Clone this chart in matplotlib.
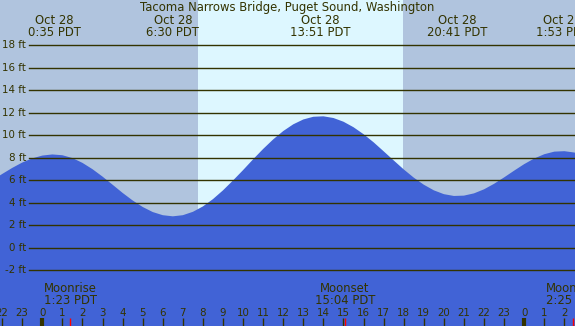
import numpy as np
import matplotlib
matplotlib.use("Agg")
import matplotlib.pyplot as plt
import matplotlib.transforms as mtransforms

title = "Tacoma Narrows Bridge, Puget Sound, Washington"

# tide height (ft) read every half hour, hour 0 = midnight Oct 28
hours = np.arange(-2.5, 27.01, 0.5)
heights = [6.0, 6.56, 7.1, 7.58, 7.95, 8.2, 8.3,
           8.23, 7.98, 7.55, 6.99, 6.33, 5.61, 4.88, 4.21, 3.63, 3.18, 2.9, 2.8,
           2.9, 3.2, 3.68, 4.33, 5.11, 5.99, 6.91, 7.87, 8.79, 9.64, 10.38, 10.98, 11.41, 11.65,
           11.69, 11.54, 11.21, 10.72, 10.1, 9.38, 8.58, 7.77, 6.97, 6.24, 5.61, 5.11, 4.77, 4.61,
           4.64, 4.84, 5.2, 5.69, 6.26, 6.86, 7.44, 7.94, 8.32, 8.55, 8.59, 8.47, 8.17]

# high / low tide times (hours) and their labels
extreme_hours = [0.583, 6.5, 13.85, 20.683, 25.883]
extreme_dates = ["Oct 28", "Oct 28", "Oct 28", "Oct 28", "Oct 28"]
extreme_times = ["0:35 PDT", "6:30 PDT", "13:51 PDT", "20:41 PDT", "1:53 PDT"]

# moon events
moon_hours = [1.383, 15.067, 26.417]
moon_names = ["Moonrise", "Moonset", "Moonrise"]
moon_times = ["1:23 PDT", "15:04 PDT", "2:25 PDT"]

sunrise = 7.75
sunset = 17.97

ft_levels = [18, 16, 14, 12, 10, 8, 6, 4, 2, 0, -2]
hour_ticks = list(range(-2, 27))

night = "#b0c4de"
day = "#ddf7ff"
water = "#4163d6"
ink = "#333300"

x_lo, x_hi = -2.107, 26.53
y_lo, y_hi = -6.95, 22.03
H = 326.0

fig = plt.figure(figsize=(5.75, 3.26), dpi=100)
ax = fig.add_axes([0, 0, 1, 1])
ax.set_xlim(x_lo, x_hi)
ax.set_ylim(y_lo, y_hi)
ax.axis("off")

ax.axvspan(x_lo, sunrise, color=night, lw=0)
ax.axvspan(sunrise, sunset, color=day, lw=0)
ax.axvspan(sunset, x_hi, color=night, lw=0)

ax.fill_between(hours, heights, y_lo - 1, color=water, lw=0)

for lv in ft_levels:
    ax.axhline(lv, xmin=29 / 575, xmax=1, color=ink, lw=1)
    ax.text(26 / 575, lv, "%d ft" % lv, transform=mtransforms.blended_transform_factory(ax.transAxes, ax.transData),
            ha="right", va="center", fontsize=7.4, color=ink)

tr = mtransforms.blended_transform_factory(ax.transData, ax.transAxes)

def py(px):
    return 1 - px / H

ax.text(0.5, py(11), title, transform=ax.transAxes, ha="center", va="baseline", fontsize=8.4, color=ink)

for h, d, t in zip(extreme_hours, extreme_dates, extreme_times):
    ax.text(h, py(24), d, transform=tr, ha="center", va="baseline", fontsize=8.4, color=ink)
    ax.text(h, py(36), t, transform=tr, ha="center", va="baseline", fontsize=8.4, color=ink)

for h, n, t in zip(moon_hours, moon_names, moon_times):
    ax.text(h, py(291.5), n, transform=tr, ha="center", va="baseline", fontsize=8.4, color=ink)
    ax.text(h, py(303.5), t, transform=tr, ha="center", va="baseline", fontsize=8.4, color=ink)
    ax.vlines(h, 0, 8 / H, transform=tr, color="red", lw=1)

for h in hour_ticks:
    ax.text(h, py(315.5), str(h % 24), transform=tr, ha="center", va="baseline", fontsize=7.4, color=ink)
    ax.vlines(h, 0, 8 / H, transform=tr, color=ink, lw=3 if h % 24 == 0 else 1)

fig.savefig("out.png", dpi=100)
